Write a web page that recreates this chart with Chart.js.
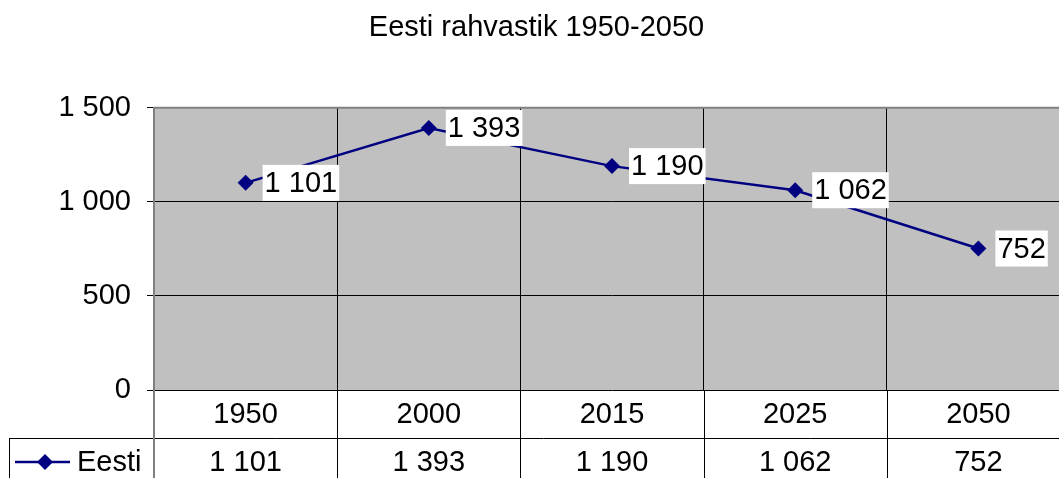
<!DOCTYPE html>
<html>
<head>
<meta charset="utf-8">
<script src="https://cdn.jsdelivr.net/npm/chart.js@4/dist/chart.umd.min.js"></script>
<style>
  html, body { margin: 0; padding: 0; background: #fff; overflow: hidden; }
  #wrap { width: 1078px; height: 478px; }
</style>
</head>
<body>
<div id="wrap"><canvas id="chart" width="1078" height="478"></canvas></div>
<script>
// Andmed (tuhandetes)
const aastad = ['1950', '2000', '2015', '2025', '2050'];
const eesti = [1101, 1393, 1190, 1062, 752];
const yTicks = [0, 500, 1000, 1500];
const seeriaNimi = 'Eesti';

const FONT = "'Liberation Sans', Arial, sans-serif";
const FSIZE = 29;
const NAVY = '#000080';

// tuhandete eraldaja tühikuga
function fmt(v) {
    return String(v).replace(/\B(?=(\d{3})+(?!\d))/g, ' ');
}

function diamond(ctx, x, y, r) {
    ctx.beginPath();
    ctx.moveTo(x, y - r);
    ctx.lineTo(x + r, y);
    ctx.lineTo(x, y + r);
    ctx.lineTo(x - r, y);
    ctx.closePath();
    ctx.fill();
}

// hall taust joonise alale
const taustPlugin = {
    id: 'taust',
    beforeDraw(chart) {
        const { ctx, chartArea: a } = chart;
        ctx.save();
        ctx.fillStyle = '#c0c0c0';
        ctx.fillRect(a.left, a.top, a.right - a.left, a.bottom - a.top);
        ctx.restore();
    },
    beforeDatasetsDraw(chart) {
        const { ctx, chartArea: a } = chart;
        ctx.save();
        ctx.strokeStyle = '#808080';
        ctx.lineWidth = 2;
        ctx.beginPath();
        ctx.moveTo(a.left, a.top);
        ctx.lineTo(a.right, a.top);
        ctx.stroke();
        ctx.restore();
    }
};

// andmesildid valge taustaga
const siltPlugin = {
    id: 'sildid',
    afterDatasetsDraw(chart) {
        const { ctx } = chart;
        const meta = chart.getDatasetMeta(0);
        ctx.save();
        ctx.font = FSIZE + 'px ' + FONT;
        ctx.textBaseline = 'middle';
        ctx.textAlign = 'left';
        meta.data.forEach((pt, i) => {
            const txt = fmt(eesti[i]);
            const w = ctx.measureText(txt).width;
            ctx.fillStyle = '#fff';
            ctx.fillRect(pt.x + 17, pt.y - 18, w + 4, 36);
            ctx.fillStyle = '#000';
            ctx.fillText(txt, pt.x + 19, pt.y + 1);
        });
        ctx.restore();
    }
};

// andmetabel diagrammi all
const tabelPlugin = {
    id: 'tabel',
    afterDraw(chart) {
        const { ctx, chartArea: a, scales } = chart;
        const x = scales.x;
        const step = x.getPixelForValue(1) - x.getPixelForValue(0);
        const row1 = a.bottom;
        const row2 = a.bottom + 48;
        const bottom = chart.height;
        ctx.save();
        ctx.strokeStyle = '#000';
        ctx.lineWidth = 1;
        ctx.beginPath();
        ctx.moveTo(9, row2 + 0.5);
        ctx.lineTo(chart.width, row2 + 0.5);
        ctx.moveTo(9.5, row2);
        ctx.lineTo(9.5, bottom);
        for (let i = 1; i <= aastad.length; i++) {
            const bx = Math.round(x.getPixelForValue(i - 1) + step / 2) + 0.5;
            ctx.moveTo(bx, row1);
            ctx.lineTo(bx, bottom);
        }
        ctx.stroke();
        ctx.strokeStyle = '#808080';
        ctx.lineWidth = 2;
        ctx.beginPath();
        ctx.moveTo(a.left, row1);
        ctx.lineTo(a.left, bottom);
        ctx.stroke();

        ctx.font = FSIZE + 'px ' + FONT;
        ctx.fillStyle = '#000';
        ctx.textAlign = 'center';
        ctx.textBaseline = 'middle';
        aastad.forEach((lab, i) => {
            const cx = x.getPixelForValue(i);
            ctx.fillText(lab, cx, row1 + 25);
            ctx.fillText(fmt(eesti[i]), cx, row2 + 25);
        });

        // legendi võti
        const ly = row2 + 24;
        ctx.strokeStyle = NAVY;
        ctx.lineWidth = 2.5;
        ctx.beginPath();
        ctx.moveTo(15, ly);
        ctx.lineTo(70, ly);
        ctx.stroke();
        ctx.fillStyle = NAVY;
        diamond(ctx, 45, ly, 8);
        ctx.fillStyle = '#000';
        ctx.textAlign = 'left';
        ctx.fillText(seeriaNimi, 77, ly + 1);
        ctx.restore();
    }
};

new Chart(document.getElementById('chart'), {
    type: 'line',
    data: {
        labels: aastad,
        datasets: [{
            label: seeriaNimi,
            data: eesti,
            borderColor: NAVY,
            backgroundColor: NAVY,
            borderWidth: 2.5,
            pointStyle: 'rectRot',
            pointRadius: 8,
            pointBackgroundColor: NAVY,
            pointBorderColor: NAVY,
            pointBorderWidth: 0,
            tension: 0,
            clip: false
        }]
    },
    options: {
        responsive: false,
        animation: false,
        layout: { padding: { left: 0, right: 5, top: 0, bottom: 88 } },
        plugins: {
            legend: { display: false },
            tooltip: { enabled: false },
            title: {
                display: true,
                text: 'Eesti rahvastik 1950-2050',
                color: '#000',
                font: { family: FONT, size: FSIZE, weight: 'normal', lineHeight: 1.2 },
                padding: { top: 11, bottom: 62 }
            }
        },
        scales: {
            x: {
                type: 'category',
                offset: true,
                grid: { offset: true, color: '#000', lineWidth: 1, drawTicks: false },
                border: { display: false },
                ticks: { display: false },
                afterFit(axis) { axis.height = 0; }
            },
            y: {
                min: 0,
                max: 1500,
                afterBuildTicks(axis) { axis.ticks = yTicks.map(v => ({ value: v })); },
                grid: { color: '#000', lineWidth: 1, tickLength: 7 },
                border: { color: '#808080', width: 2 },
                ticks: {
                    color: '#000',
                    padding: 16,
                    font: { family: FONT, size: FSIZE },
                    callback: v => fmt(v)
                },
                afterFit(axis) { axis.width = 154; }
            }
        }
    },
    plugins: [taustPlugin, siltPlugin, tabelPlugin]
});
</script>
</body>
</html>
